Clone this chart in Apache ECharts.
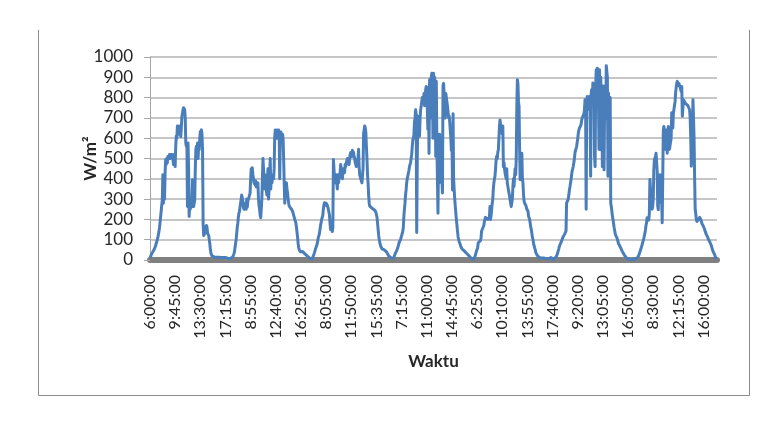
<!DOCTYPE html>
<html>
<head>
<meta charset="utf-8">
<script src="https://cdn.jsdelivr.net/npm/echarts@6/dist/echarts.min.js"></script>
<style>
html,body{margin:0;padding:0;background:#fff;}
#chart{width:775px;height:429px;}
</style>
</head>
<body>
<div id="chart"></div>
<script>
// Irradiance (W/m²) readings every 5 minutes, 6:00:00 to 18:00:00, seven days
const day1 = [8,15,25,30,35,40,45, 49,55,60,70,80,90, 99,110,125,140,160,185, 214,240,270,296,420,280,
  420,300,430,494,470,500, 480,510,500,510,520,500, 520,510,520,518,500,470, 520,500,460,560,610,600,
  660,620,640,660,620,640, 608,650,707,720,740,750, 745,740,700,576,560,576, 263,576,450,214,280,250,
  296,260,300,395,330,263, 280,296,450,543,560,500, 576,500,560,543,600,633, 600,641,620,543,181,120,
  115,130,150,148,170,160, 131,140,120,99,80,50, 33,25,20,16,14,13,
  12,13,12,10,12,13,12,10,12,13,12,10,10,12,13,12,10,12,10,8,10,12,10,8,10,8,10,10,8,8];
const day2 = [8,10,12,15,20,30, 40,60,80,100,130,160, 180,210,230,240,260,280, 300,320,320,290,260,250,
  270,280,280,250,300,260, 290,300,300,320,330,400, 450,430,454,420,400,380, 380,370,390,360,380,370,
  380,300,270,250,220,208, 250,300,400,500,450,400, 350,420,380,350,320,380, 450,300,350,420,500,350,
  420,380,400,420,400,450, 600,640,620,630,600,640, 620,640,630,400,600,630, 620,610,620,600,500,380,
  280,380,330,380,350,330, 300,280,265,260,265,260, 250,245,240,235,220,210, 200,190,180,160,135,110,
  80,60,50,45,40,45, 48,45,42,45,40,35, 30,28,25,22,20,18, 15,12,10,8,7,5,5];
const day3 = [5,10,20,25,35,45, 55,60,70,80,95,110, 118,130,150,170,185,200, 200,220,250,270,282,280,
  270,280,282,270,260,250, 250,220,180,150,150,170, 140,160,495,450,400,380, 420,400,380,350,420,380,
  400,420,430,470,450,420, 400,430,450,440,430,470, 460,480,490,500,495,480, 470,500,520,530,528,510,
  540,545,530,510,500,480, 470,460,495,470,500,545, 460,420,413,400,390,380, 380,450,626,640,660,650,
  630,560,500,420,380,320, 280,265,262,260,258,255, 252,250,250,250,245,240, 235,232,210,180,150,120,
  100,85,75,65,60,55, 55,52,52,50,48,45, 45,40,35,30,25,20, 18,15,12,10,8,5,5];
const day4 = [5,10,20,28,35,40, 45,52,60,70,80,90, 93,100,110,120,130,140, 160,215,250,280,320,345,
  380,400,413,420,440,460, 470,480,500,520,560,590, 600,620,680,700,740,720, 135,500,708,680,650,610,
  700,740,757,780,800,806, 780,820,760,800,840,855, 800,740,643,850,525,888, 870,700,900,920,880,600,
  920,880,900,870,510,880, 600,400,230,500,380,620, 480,530,480,400,330,860, 870,820,760,700,820,820,
  780,757,730,700,710,680, 640,600,540,620,345,720, 400,345,300,263,230,197, 170,140,115,100,90,82,
  75,65,58,55,52,50, 48,45,42,40,38,33, 30,28,25,22,20,16, 12,10,8,5,4,3,5];
const day5 = [5,15,25,35,45,50, 60,85,80,82,82,95, 110,143,148,150,148,170, 190,200,210,214,215,210,
  200,205,200,210,263,200, 220,250,280,300,350,380, 400,413,450,493,511,500, 530,543,600,660,690,682,
  640,658,620,660,460,480, 450,428,420,400,450,380, 362,362,330,315,296,290, 263,270,300,362,400,362,
  413,450,420,500,757,888, 870,780,757,545,395,526, 420,526,400,380,320,290, 280,280,270,260,250,250,
  240,215,214,200,180,160, 150,130,110,100,80,70, 66,50,36,30,25,20, 16,15,12,10,10,10,
  10,12,10,8,10,10, 10,8,8,6,8,8, 6,5,5,8,10,12, 8,6,4,2,3,6,10];
const day6 = [12,14,16,25,35,45, 55,66,70,80,85,93, 100,110,115,120,125,130, 135,143,280,280,280,300,
  320,345,360,380,395,420, 440,450,462,480,500,528, 540,550,560,580,600,625, 640,650,657,660,670,690,
  700,700,708,720,740,790, 780,250,780,806,760,790, 740,806,760,413,822,840, 780,872,820,860,511,460,
  850,937,900,945,880,780, 545,937,543,900,820,860, 460,700,857,444,760,750, 700,957,953,900,413,822,
  658,490,800,280,263,240, 215,200,180,160,145,130, 120,115,110,100,90,80, 75,70,64,58,52,46,
  40,35,33,28,22,18, 15,10,8,6,5,4, 3,2,0,0,2,3, 3,2,2,3,3,5,8];
const day7 = [5,8,12,16,22,30, 38,45,55,65,75,85, 95,105,118,130,148,170, 183,208,200,210,197,230,
  397,350,330,312,250,263, 300,446,493,495,510,526, 528,440,265,247,380,395, 420,345,282,296,183,189,
  643,658,660,620,545,580, 640,526,600,658,560,545, 543,545,600,725,700,650, 723,720,730,780,823,850,
  870,880,870,860,870,860, 855,860,830,855,708,707, 790,790,780,775,770,774, 770,774,760,757,757,740,
  700,608,462,460,600,790, 700,600,400,250,230,200, 190,183,197,200,205,210, 216,200,190,180,175,170,
  167,164,150,140,134,125, 120,115,110,100,95,90, 85,82,70,60,50,45, 36,33,25,15,11,5,3];
const days = [day1, day2, day3, day4, day5, day6, day7];

const dayStartMinutes = 360;   // 6:00:00
const stepMinutes = 5;
const labelEvery = 45;          // one tick label every 45 readings (3 h 45 min)

const yMin = 0, yMax = 1000, yStep = 100;
const xTitle = 'Waktu';
const yTitle = 'W/m²';

const categories = [];
const values = [];
days.forEach(function (d) {
  d.forEach(function (v, k) {
    const m = dayStartMinutes + k * stepMinutes;
    categories.push(Math.floor(m / 60) + ':' + String(m % 60).padStart(2, '0') + ':00');
    values.push(v);
  });
});

const FONT = 'Lato, "Open Sans", "Liberation Sans", sans-serif';
const chart = echarts.init(document.getElementById('chart'), null, {renderer: 'canvas'});
chart.setOption({
  animation: false,
  backgroundColor: '#ffffff',
  grid: {left: 150, right: 58, top: 57, bottom: 169, containLabel: false},
  graphic: [
    {type: 'line', shape: {x1: 38.5, y1: 30, x2: 38.5, y2: 395.5}, style: {stroke: '#8c8c8c', lineWidth: 1}, silent: true},
    {type: 'line', shape: {x1: 38.5, y1: 395.5, x2: 749.5, y2: 395.5}, style: {stroke: '#8c8c8c', lineWidth: 1}, silent: true},
    {type: 'line', shape: {x1: 749.5, y1: 30, x2: 749.5, y2: 395.5}, style: {stroke: '#8c8c8c', lineWidth: 1}, silent: true}
  ],
  xAxis: {
    type: 'category',
    data: categories,
    boundaryGap: false,
    offset: 3,
    axisLine: {show: true, lineStyle: {color: '#808080', width: 6}},
    axisTick: {show: false},
    splitLine: {show: false},
    axisLabel: {
      interval: labelEvery - 1,
      rotate: 90,
      margin: 12,
      fontSize: 16,
      fontFamily: FONT,
      color: '#262626'
    },
    name: xTitle,
    nameLocation: 'middle',
    nameGap: 90,
    nameMoveOverlap: false,
    nameTextStyle: {fontSize: 17, fontWeight: 'bold', fontFamily: FONT, color: '#262626'}
  },
  yAxis: {
    type: 'value',
    min: yMin,
    max: yMax,
    interval: yStep,
    axisLine: {show: true, lineStyle: {color: '#a6a6a6', width: 1}},
    axisTick: {show: true, length: 6, lineStyle: {color: '#a6a6a6'}},
    splitLine: {show: true, lineStyle: {color: '#b3b3b3', width: 1.5}},
    axisLabel: {margin: 17, fontSize: 17, fontFamily: FONT, color: '#262626',
      formatter: function (v) { return String(v); }},
    name: yTitle,
    nameLocation: 'middle',
    nameGap: 51,
    nameRotate: 90,
    nameMoveOverlap: false,
    nameTextStyle: {fontSize: 17, fontWeight: 'bold', fontFamily: FONT, color: '#262626'}
  },
  series: [{
    type: 'line',
    data: values,
    showSymbol: false,
    symbol: 'none',
    sampling: null,
    lineStyle: {color: '#4a7ebb', width: 3, join: 'round'},
    itemStyle: {color: '#4a7ebb'}
  }]
});
</script>
</body>
</html>
